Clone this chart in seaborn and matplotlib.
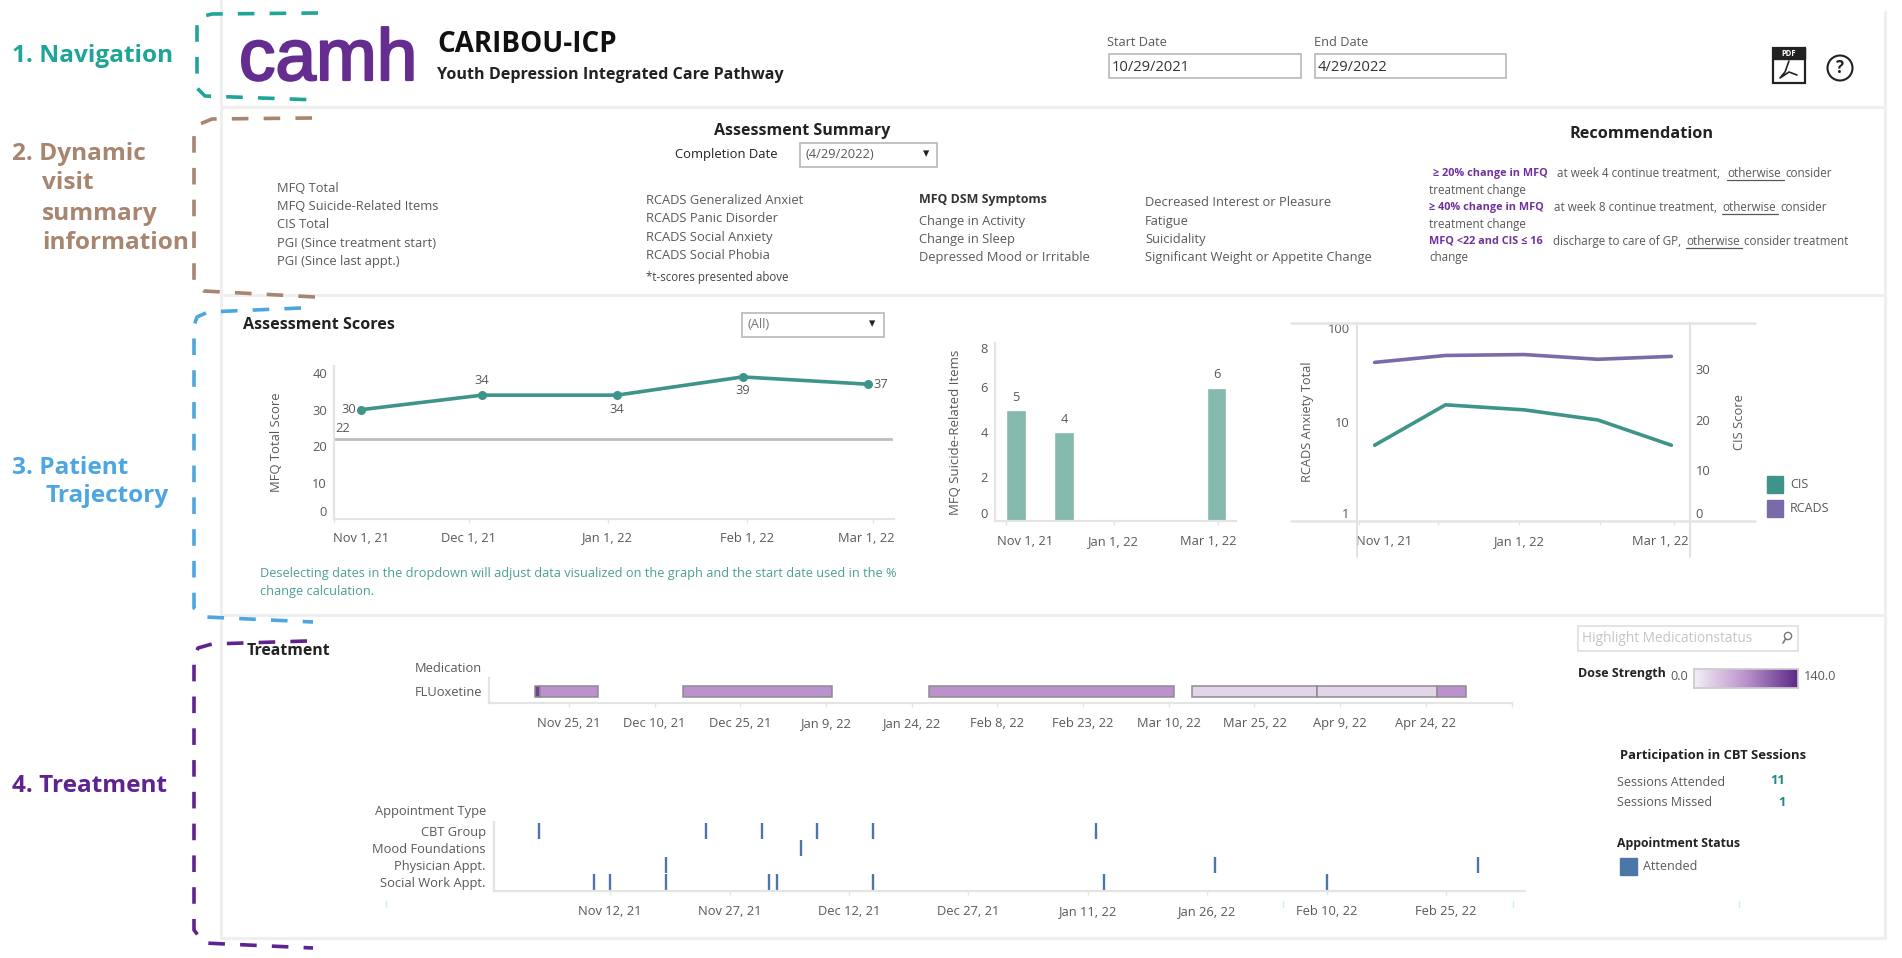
import matplotlib
matplotlib.use('Agg')
import matplotlib.pyplot as plt
import matplotlib.dates as mdates
import matplotlib.patheffects as pe
from matplotlib.colors import LinearSegmentedColormap
from matplotlib.patches import Rectangle, Circle
from matplotlib.transforms import ScaledTranslation
import numpy as np
import pandas as pd
import seaborn as sns

W, H = 1902, 958

# Assessment scores
assessment_dates = pd.to_datetime(['2021-11-07', '2021-12-04', '2022-01-03', '2022-01-31', '2022-02-28'])
mfq_total = [30, 34, 34, 39, 37]
mfq_threshold = 22
suicide_items = [5, 4, np.nan, np.nan, 6]
cis_score = [15, 23, 22, 20, 15]
rcads_total = [40, 47, 48, 43, 46]

# Medication
med_starts = pd.to_datetime(['2021-11-19', '2021-11-20', '2021-12-15', '2022-01-27', '2022-03-14', '2022-04-05', '2022-04-26'])
med_ends = pd.to_datetime(['2021-11-20', '2021-11-30', '2022-01-10', '2022-03-11', '2022-04-05', '2022-04-26', '2022-05-01'])
med_dose = [125, 70, 70, 70, 20, 20, 70]

# Appointments
appt_types = ['CBT Group', 'Mood Foundations', 'Physician Appt.', 'Social Work Appt.']
cbt_dates = ['2021-11-03', '2021-11-24', '2021-12-01', '2021-12-08', '2021-12-15', '2022-01-12']
mood_dates = ['2021-12-06']
physician_dates = ['2021-11-19', '2022-01-27', '2022-03-01']
social_dates = ['2021-11-10', '2021-11-12', '2021-11-19', '2021-12-02', '2021-12-03', '2021-12-15', '2022-01-13', '2022-02-10']

# Tick labels
score_ticks = ['2021-11-01', '2021-12-01', '2022-01-01', '2022-02-01', '2022-03-01']
score_labels = ['Nov 1, 21', 'Dec 1, 21', 'Jan 1, 22', 'Feb 1, 22', 'Mar 1, 22']
med_ticks = ['2021-11-25', '2021-12-10', '2021-12-25', '2022-01-09', '2022-01-24', '2022-02-08',
             '2022-02-23', '2022-03-10', '2022-03-25', '2022-04-09', '2022-04-24', '2022-05-09']
med_labels = ['Nov 25, 21', 'Dec 10, 21', 'Dec 25, 21', 'Jan 9, 22', 'Jan 24, 22', 'Feb 8, 22',
              'Feb 23, 22', 'Mar 10, 22', 'Mar 25, 22', 'Apr 9, 22', 'Apr 24, 22', '']
appt_ticks = ['2021-11-12', '2021-11-27', '2021-12-12', '2021-12-27', '2022-01-11', '2022-01-26', '2022-02-10', '2022-02-25']
appt_labels = ['Nov 12, 21', 'Nov 27, 21', 'Dec 12, 21', 'Dec 27, 21', 'Jan 11, 22', 'Jan 26, 22', 'Feb 10, 22', 'Feb 25, 22']

TEAL = '#3e9488'
BAR_TEAL = '#85b9ae'
VIOLET = '#7b6aa8'
GREY = '#e4e4e4'
TXT = '#595959'
INK = '#222222'
APPT = '#4a76a8'
BODY = 9.3
SECTION = 17.6

sns.set_theme(style='white')
plt.rcParams['font.family'] = ['Open Sans', 'DejaVu Sans']
plt.rcParams['axes.unicode_minus'] = False

fig = plt.figure(figsize=(W / 100, H / 100), dpi=100, facecolor='white')

# page layer in pixel coordinates, y going down
page = fig.add_axes([0, 0, 1, 1], zorder=0)
page.set_xlim(0, W)
page.set_ylim(H, 0)
page.axis('off')
# a second layer on top for things that cross the charts
top = fig.add_axes([0, 0, 1, 1], zorder=10)
top.set_xlim(0, W)
top.set_ylim(H, 0)
top.axis('off')
top.patch.set_alpha(0)


def px_axes(left, t, right, b):
    ax = fig.add_axes([left / W, 1 - b / H, (right - left) / W, (b - t) / H], zorder=5)
    ax.patch.set_alpha(0)
    return ax


def put(x, y, s, size=BODY, color=TXT, weight='normal', ha='left', layer=None, **kw):
    return (layer or page).text(x, y, s, fontsize=size, color=color, fontweight=weight, ha=ha, va='center', **kw)


def box(x0, y0, x1, y1, edge='#bdbdbd', face='white', lw=1.3):
    page.add_patch(Rectangle((x0, y0), x1 - x0, y1 - y0, facecolor=face, edgecolor=edge, linewidth=lw))


def style_axis(ax, xpad=6):
    for side in ['top', 'right']:
        ax.spines[side].set_visible(False)
    for side in ['left', 'bottom']:
        ax.spines[side].set_color(GREY)
        ax.spines[side].set_linewidth(1.6)
    ax.tick_params(axis='x', length=3, width=1, color=GREY, labelsize=BODY, labelcolor=TXT, pad=xpad, bottom=True)
    ax.tick_params(axis='y', length=0, labelsize=BODY, labelcolor=TXT, pad=5)
    ax.set_xlabel('')
    ax.set_ylabel('')


def nudge(label, dx):
    # tick labels near the edge sit off their tick in the original
    label.set_transform(label.get_transform() + ScaledTranslation(dx / 100, 0, fig.dpi_scale_trans))


def label_y(ax, text, px, size=BODY):
    ax.set_ylabel(text, fontsize=size, color=TXT)
    b = ax.get_position()
    ax.yaxis.set_label_coords((px / W - b.x0) / b.width, 0.5)


day = lambda s: mdates.date2num(pd.Timestamp(s))

# panels
for y in [107, 295, 615, 938]:
    page.plot([221, 1885], [y, y], color='#efefef', lw=2.2)
page.plot([221, 221], [0, 938], color='#efefef', lw=2.2)
page.plot([1885, 1885], [12, 938], color='#efefef', lw=2.2)

# dashed brackets
brackets = [
    ('#1ea597', [(318, 13), (212, 14), (200, 17), (197, 25), (197, 88), (205, 96), (318, 100)]),
    ('#a8856f', [(312, 118), (212, 119), (200, 124), (194, 132), (194, 283), (204, 291), (315, 297)]),
    ('#4da6e0', [(301, 308), (208, 312), (197, 317), (194, 326), (194, 608), (206, 617), (313, 622)]),
    ('#5f2390', [(307, 641), (212, 644), (198, 648), (194, 658), (194, 930), (204, 943), (313, 948)]),
]
for col, pts in brackets:
    xs, ys = zip(*pts)
    top.plot(xs, ys, color=col, lw=2.6, ls=(0, (4.6, 4.2)))

# section names
put(12, 56, '1. Navigation', SECTION, '#1ea597', 'bold')
put(12, 154, '2. Dynamic', SECTION, '#a8856f', 'bold')
put(42, 183, 'visit', SECTION, '#a8856f', 'bold')
put(42, 214, 'summary', SECTION, '#a8856f', 'bold')
put(42, 243, 'information', SECTION, '#a8856f', 'bold')
put(12, 468, '3. Patient', SECTION, '#4da6e0', 'bold')
put(45, 496, 'Trajectory', SECTION, '#4da6e0', 'bold')
put(12, 786, '4. Treatment', SECTION, '#5f2390', 'bold')

# header
logo = page.text(239, 80, 'camh', fontsize=52.5, color='#652d90', family='Liberation Sans', va='baseline', ha='left')
logo.set_path_effects([pe.withStroke(linewidth=1.6, foreground='#652d90')])
put(437, 44, 'CARIBOU-ICP', 20, '#111111', 'bold')
put(437, 75, 'Youth Depression Integrated Care Pathway', 11.6, INK, 'bold')

put(1107, 42, 'Start Date', 9.2)
box(1109, 54, 1301, 78)
put(1112, 67, '10/29/2021', 10.6, '#333333')
put(1314, 42, 'End Date', 9.2)
box(1315, 54, 1506, 78)
put(1318, 67, '4/29/2022', 10.6, '#333333')

# pdf and help icons
box(1773, 48, 1805, 83, edge='#222222', lw=1.6)
page.add_patch(Rectangle((1773, 48), 32, 11, color='#222222'))
put(1789, 53.5, 'PDF', 5.5, 'white', 'bold', ha='center')
page.plot([1789, 1785, 1780, 1789, 1797], [61, 72, 78, 72, 75], color='#222222', lw=1.2)
page.add_patch(Circle((1840, 68), 12.5, fill=False, edgecolor='#222222', lw=1.5))
put(1840, 68, '?', 12, '#222222', 'bold', ha='center')

# summary panel
put(802, 131, 'Assessment Summary', 11.5, INK, 'bold', ha='center')
put(675, 154, 'Completion Date', 9.4, INK)
box(800, 143, 937, 167)
put(805, 154, '(4/29/2022)', 9.3)
put(926, 154, '▾', 9, '#222222', ha='center')

for y, s in zip([188, 206, 224, 243, 261],
                ['MFQ Total', 'MFQ Suicide-Related Items', 'CIS Total', 'PGI (Since treatment start)', 'PGI (Since last appt.)']):
    put(277, y, s)
for y, s in zip([200, 218, 237, 255],
                ['RCADS Generalized Anxiet', 'RCADS Panic Disorder', 'RCADS Social Anxiety', 'RCADS Social Phobia']):
    put(646, y, s)
put(646, 278, '*t-scores presented above', 8.3, '#444444')
put(919, 199, 'MFQ DSM Symptoms', 8.95, '#333333', 'bold')
for y, s in zip([221, 239, 257], ['Change in Activity', 'Change in Sleep', 'Depressed Mood or Irritable']):
    put(919, y, s)
for y, s in zip([202, 221, 239, 257],
                ['Decreased Interest or Pleasure', 'Fatigue', 'Suicidality', 'Significant Weight or Appetite Change']):
    put(1145, y, s)

put(1642, 134, 'Recommendation', 11.7, INK, 'bold', ha='center')
PUR = '#7030a0'
REC = 8.4
put(1433, 173, '≥ 20% change in MFQ', 7.8, PUR, 'bold')
put(1557, 173, 'at week 4 continue treatment,', REC)
put(1727, 173, 'otherwise', REC)
page.plot([1727, 1784], [180, 180], color=TXT, lw=0.9)
put(1785, 173, 'consider', REC)
put(1429, 190, 'treatment change', REC)
put(1429, 207, '≥ 40% change in MFQ', 7.8, PUR, 'bold')
put(1554, 207, 'at week 8 continue treatment,', REC)
put(1722, 207, 'otherwise', REC)
page.plot([1722, 1778], [214, 214], color=TXT, lw=0.9)
put(1780, 207, 'consider', REC)
put(1429, 224, 'treatment change', REC)
put(1429, 241, 'MFQ <22 and CIS ≤ 16', 7.8, PUR, 'bold')
put(1553, 241, 'discharge to care of GP,', REC)
put(1686, 241, 'otherwise', REC)
page.plot([1686, 1742], [248, 248], color=TXT, lw=0.9)
put(1744, 241, 'consider treatment', REC)
put(1429, 258, 'change', REC)

# trajectory panel
put(243, 325, 'Assessment Scores', 11.6, INK, 'bold')
box(742, 313, 884, 337)
put(747, 324, '(All)', 9.3, '#777777')
put(872, 324, '▾', 9, '#222222', ha='center')
put(260, 573, 'Deselecting dates in the dropdown will adjust data visualized on the graph and the start date used in the %', 9.17, '#4c9f94')
put(260, 591, 'change calculation.', 9.17, '#4c9f94')

# MFQ total line
ax1 = px_axes(334, 366, 893.5, 519)
sns.lineplot(x=assessment_dates, y=mfq_total, ax=ax1, color=TEAL, lw=2.6, marker='o', ms=6.5, mew=0, errorbar=None)
ax1.axhline(mfq_threshold, color='#bdbdbd', lw=2)
ax1.set_xlim(day('2021-11-01'), day('2021-11-01') + 124.6)
ax1.set_ylim(0, 42)
ax1.set_xticks([day(s) for s in score_ticks], score_labels)
ax1.set_yticks([0, 10, 20, 30, 40])
style_axis(ax1)
nudge(ax1.get_xticklabels()[0], 27)
nudge(ax1.get_xticklabels()[-1], -7)
ax1.get_yticklabels()[0].set_va('bottom')
label_y(ax1, 'MFQ Total Score', 283, 9.4)
offsets = [(-8.5, 0), (0, 10.8), (0, -10), (0, -9.5), (9, 0)]
for d, v, off in zip(assessment_dates, mfq_total, offsets):
    ax1.annotate(str(v), (d, v), xytext=off, textcoords='offset points', ha='center', va='center', fontsize=BODY, color=TXT)
ax1.annotate(str(mfq_threshold), (day('2021-11-03'), mfq_threshold), xytext=(0, 7.2), textcoords='offset points',
             ha='center', va='center', fontsize=BODY, color=TXT)

# MFQ suicide items bars
ax2 = px_axes(995, 343, 1236, 521)
sns.barplot(x=mdates.date2num(assessment_dates), y=suicide_items, ax=ax2, native_scale=True, width=0.41,
            color=BAR_TEAL, saturation=1, errorbar=None)
ax2.set_xlim(day('2021-11-01') - 6, day('2021-11-01') + 130)
ax2.set_ylim(0, 8)
ax2.set_xticks([day(s) for s in score_ticks[::2]], score_labels[::2])
ax2.set_yticks([0, 2, 4, 6, 8])
style_axis(ax2, xpad=7)
nudge(ax2.get_xticklabels()[0], 19.4)
nudge(ax2.get_xticklabels()[-1], -10)
ax2.get_yticklabels()[0].set_va('bottom')
ax2.get_yticklabels()[-1].set_va('top')
label_y(ax2, 'MFQ Suicide-Related Items', 962, 9.5)
for d, v in zip(mdates.date2num(assessment_dates), suicide_items):
    if not np.isnan(v):
        ax2.annotate(str(int(v)), (d, v), xytext=(0, 9), textcoords='offset points', ha='center', va='center',
                     fontsize=BODY, color=TXT)

# RCADS and CIS
ax3 = px_axes(1356.5, 323, 1689.5, 521)
sns.lineplot(x=assessment_dates, y=rcads_total, ax=ax3, color=VIOLET, lw=2.6, errorbar=None)
ax3.set_yscale('log')
ax3.set_ylim(1, 100)
ax3.set_xlim(day('2021-11-01') - 0.9, day('2021-11-01') + 125.9)
ax3.set_xticks([day(s) for s in score_ticks])
ax3.set_xticklabels(['Nov 1, 21', '', 'Jan 1, 22', '', 'Mar 1, 22'])
ax3.set_yticks([1, 10, 100], ['1', '10', '100'])
ax3.minorticks_off()
style_axis(ax3, xpad=7)
nudge(ax3.get_xticklabels()[0], 25.5)
nudge(ax3.get_xticklabels()[-1], -14)
ax3.get_yticklabels()[0].set_va('bottom')
ax3.get_yticklabels()[-1].set_va('top')
ax3.spines['bottom'].set_visible(False)
ax3.spines['left'].set_visible(False)
label_y(ax3, 'RCADS Anxiety Total', 1314, 9.2)

ax3r = ax3.twinx()
ax3r.patch.set_alpha(0)
sns.lineplot(x=assessment_dates, y=cis_score, ax=ax3r, color=TEAL, lw=2.6, errorbar=None)
ax3r.set_ylim(0, 39.2)
ax3r.set_yticks([0, 10, 20, 30])
ax3r.tick_params(axis='y', length=0, labelsize=BODY, labelcolor=TXT, pad=4.5)
for side in ax3r.spines:
    ax3r.spines[side].set_visible(False)
ax3r.get_yticklabels()[0].set_va('bottom')
ax3r.set_ylabel('CIS Score', fontsize=BODY, color=TXT)
ax3r.yaxis.set_label_coords((1733 - 1356.5) / 333, 0.5)

# lines of that chart reach past its plot area
for x in [1356.5, 1689.5]:
    top.plot([x, x], [323, 557], color='#dddddd', lw=1.2)
for y in [323, 521]:
    top.plot([1291, 1754.5], [y, y], color=GREY, lw=1.8)

for y0, col, name in [(476, TEAL, 'CIS'), (500, VIOLET, 'RCADS')]:
    page.add_patch(Rectangle((1767, y0), 15.5, 16.5, color=col))
    put(1790, y0 + 8, name, 9)

# treatment panel
put(247, 651, 'Treatment', 11.4, INK, 'bold', layer=top)
put(481.5, 669, 'Medication', BODY, ha='right')

dose_cmap = LinearSegmentedColormap.from_list('dose', ['#f3eff5', '#bb92cc', '#5b2a86'])
ax4 = px_axes(489, 678, 1511.5, 703)
med_left = mdates.date2num(med_starts)
med_width = mdates.date2num(med_ends) - med_left
ax4.barh(0, med_width, left=med_left, height=0.44, color=[dose_cmap(v / 140) for v in med_dose],
         edgecolor='#8f8a92', linewidth=1.1)
ax4.set_xlim(day('2021-11-11'), day('2022-05-09'))
ax4.set_ylim(-0.46, 0.54)
ax4.set_xticks([day(s) for s in med_ticks], med_labels)
ax4.set_yticks([0], ['FLUoxetine'])
style_axis(ax4, xpad=7)

put(486, 812, 'Appointment Type', BODY, ha='right')
appt = pd.DataFrame({
    'date': pd.to_datetime(cbt_dates + mood_dates + physician_dates + social_dates),
    'type': [appt_types[0]] * len(cbt_dates) + [appt_types[1]] * len(mood_dates)
            + [appt_types[2]] * len(physician_dates) + [appt_types[3]] * len(social_dates),
})
ax5 = px_axes(494, 822, 1525, 891)
sns.scatterplot(data=appt, x='date', y='type', ax=ax5, marker='|', s=130, linewidth=1.7, color=APPT)
ax5.set_xlim(day('2021-11-12') - 14.6, day('2021-11-12') + 114.9)
ax5.set_ylim(3.53, -0.53)
ax5.set_xticks([day(s) for s in appt_ticks], appt_labels)
ax5.set_yticks(range(4), appt_types)
style_axis(ax5, xpad=7)
ax5.tick_params(axis='y', pad=5.8)

# stray specks in the screenshot
for x in [386, 1283, 1513, 1739]:
    top.plot([x, x], [901, 907], color='#c9f0f4', lw=1)

# side panel
box(1578, 626, 1798, 651, edge='#e2e2e2')
put(1582, 638, 'Highlight Medicationstatus', 9.8, '#c4c4c4')
page.add_patch(Circle((1788, 636), 3.6, fill=False, edgecolor='#777777', lw=1))
page.plot([1785.5, 1783], [639, 643], color='#777777', lw=1.2)
put(1578, 673, 'Dose Strength', 9, INK, 'bold')
put(1679, 676, '0.0', 9.2, ha='center')
put(1804, 676, '140.0', 9.2)
axc = px_axes(1694, 669, 1798, 688)
axc.imshow(np.linspace(0, 1, 256)[None, :], aspect='auto', cmap=dose_cmap)
axc.set_xticks([])
axc.set_yticks([])
for side in axc.spines:
    axc.spines[side].set_color('#cccccc')

put(1620, 755, 'Participation in CBT Sessions', 9.4, INK, 'bold')
put(1617, 782, 'Sessions Attended', 9)
put(1778, 780, '11', 9.4, '#1a8c84', 'bold', ha='center')
put(1617, 803, 'Sessions Missed', 9)
put(1782, 803, '1', 9.4, '#1a8c84', 'bold', ha='center')
put(1617, 844, 'Appointment Status', 8.8, INK, 'bold')
page.add_patch(Rectangle((1620, 858), 17, 17, color=APPT))
put(1643, 867, 'Attended', 9)

fig.savefig('out.png', dpi=100)
